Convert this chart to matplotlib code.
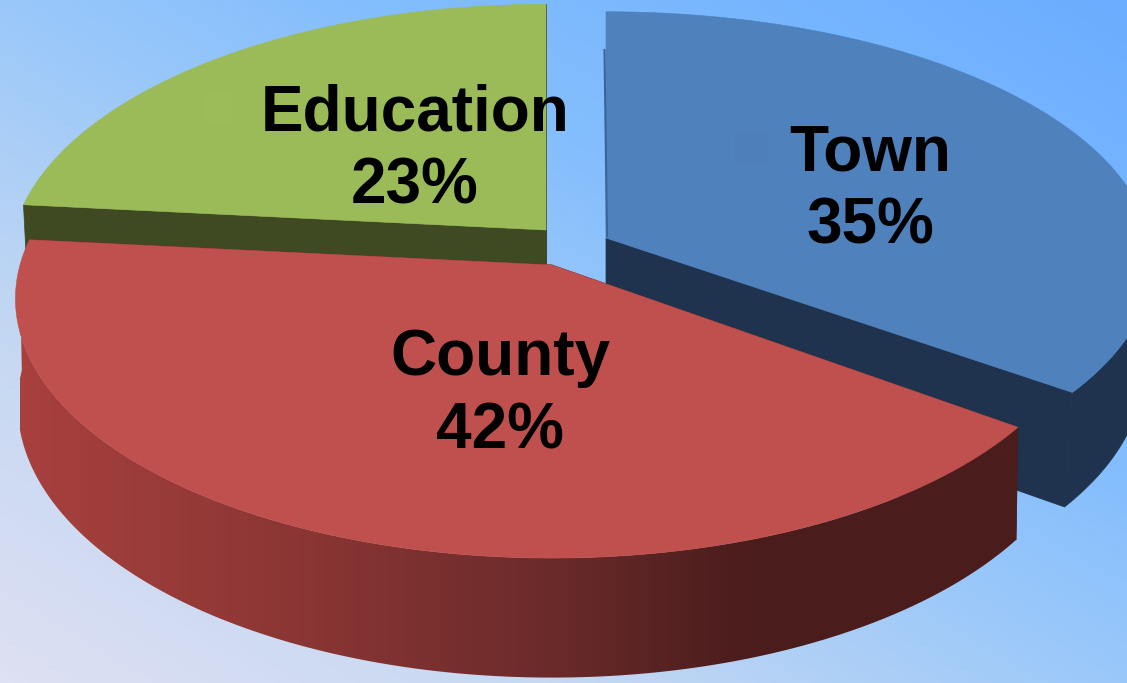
import numpy as np
import matplotlib
matplotlib.use('Agg')
import matplotlib.pyplot as plt
from matplotlib.colors import LinearSegmentedColormap
from matplotlib.patches import Polygon, Rectangle

names = ['Town', 'County', 'Education']
labels = ['35%', '42%', '23%']
shares = [35.0, 41.6, 23.4]  # as drawn, the picture's angles differ a little from its labels
top_colors = ['#4F81BD', '#C0504D', '#9BBB59']
cut_colors = ['#1F334E', '#4A1C1C', '#3F4A23']

W, H = 1127, 683
START = 90.0  # degrees, slices go clockwise from 12 o'clock

# slice apex in pixels, the town one is pulled out
apex = {'Town': (606, 238), 'County': (552, 265), 'Education': (546, 230)}
# x radius, y radius, perspective distance, thickness, narrowing of the lower edge
shape = {'Town': (544.0, 248.0, 10.4, 108.0, 0.983),
         'County': (532.0, 255.0, 7.7, 104.0, 0.996),
         'Education': (532.0, 255.0, 7.7, 104.0, 0.99)}
label_pos = {'Town': (870, 190), 'County': (500, 395), 'Education': (415, 150)}


def project(name, theta, r=1.0, low=False):
    # tilted disc with a bit of perspective
    cx, cy = apex[name]
    a, b, d, thick, narrow = shape[name]
    x = r * np.cos(theta)
    y = r * np.sin(theta)
    s = d / (d + y)
    if low:
        a = a * narrow
    sx = cx + a * x * s
    sy = cy - b * y * s
    if low:
        sy = sy + thick * s
    return sx, sy


fig = plt.figure(figsize=(W / 100, H / 100), dpi=100)
ax = fig.add_axes([0, 0, 1, 1])

# background
yy, xx = np.mgrid[0:1:200j, 0:1:200j]
grad = (xx + yy) / 2
bg = LinearSegmentedColormap.from_list('bg', [(0, '#DEE0F3'), (0.25, '#C5D8F2'), (0.5, '#9AC8FA'),
                                              (0.65, '#84BEFD'), (1, '#6BADFF')])
ax.imshow(grad, extent=[0, W, H, 0], origin='lower', cmap=bg, aspect='auto', zorder=0)

side_cmap = LinearSegmentedColormap.from_list('side', [(0, '#A8403E'), (0.28, '#8A3634'), (0.54, '#6A2A2A'),
                                                       (0.73, '#4A1C1C'), (1, '#4A1C1C')])
side_grad = np.linspace(0, 1, 256).reshape(1, -1)

edges = START - np.cumsum([0] + shares) * 3.6
order = [0, 2, 1]  # town at the back, then education, county in front
for i in order:
    name = names[i]
    t = np.radians(np.linspace(edges[i], edges[i + 1], 200))
    ux, uy = project(name, t)
    lx, ly = project(name, t, low=True)
    ax0, ay0 = project(name, t[0], r=0)
    bx0, by0 = project(name, t[0], r=0, low=True)
    z = 2 + order.index(i)

    # cut faces
    for k in (0, -1):
        ax.fill([ax0, ux[k], lx[k], bx0], [ay0, uy[k], ly[k], by0],
                color=cut_colors[i], lw=0.5, zorder=z)
    # rim, only the part that faces the viewer
    front = np.sin(t) < 0
    if front.any():
        rim = np.c_[np.r_[ux[front], lx[front][::-1]], np.r_[uy[front], ly[front][::-1]]]
        if name == 'County':
            poly = Polygon(rim, closed=True, fc='none', ec='none', zorder=z)
            ax.add_patch(poly)
            im = ax.imshow(side_grad, extent=[20, 1020, H, 0], cmap=side_cmap, aspect='auto', zorder=z)
            im.set_clip_path(poly)
        else:
            ax.fill(rim[:, 0], rim[:, 1], color=cut_colors[i], lw=0.5, zorder=z)
    # top
    ax.fill(np.r_[ax0, ux], np.r_[ay0, uy], color=top_colors[i], lw=0.4, zorder=z + 0.5)

# thin dark sliver on the left of the town slice
ax.plot([604.5, 607], [50, 236], color='#3A6499', lw=1.5, zorder=2.8)
# faint legend keys left behind next to the labels
ax.add_patch(Rectangle((205, 92), 33, 32, fc='#9CBC5A', ec='none', zorder=6))
ax.add_patch(Rectangle((735, 132), 33, 32, fc='#4E7FBB', ec='none', zorder=6))

for i, name in enumerate(names):
    ax.text(label_pos[name][0], label_pos[name][1], '%s\n%s' % (name, labels[i]),
            family='Liberation Sans', weight='bold', fontsize=46, color='black',
            ha='center', va='center', linespacing=1.28, zorder=10)

ax.set_xlim(0, W)
ax.set_ylim(H, 0)
ax.axis('off')

plt.savefig('out.png', dpi=100)
